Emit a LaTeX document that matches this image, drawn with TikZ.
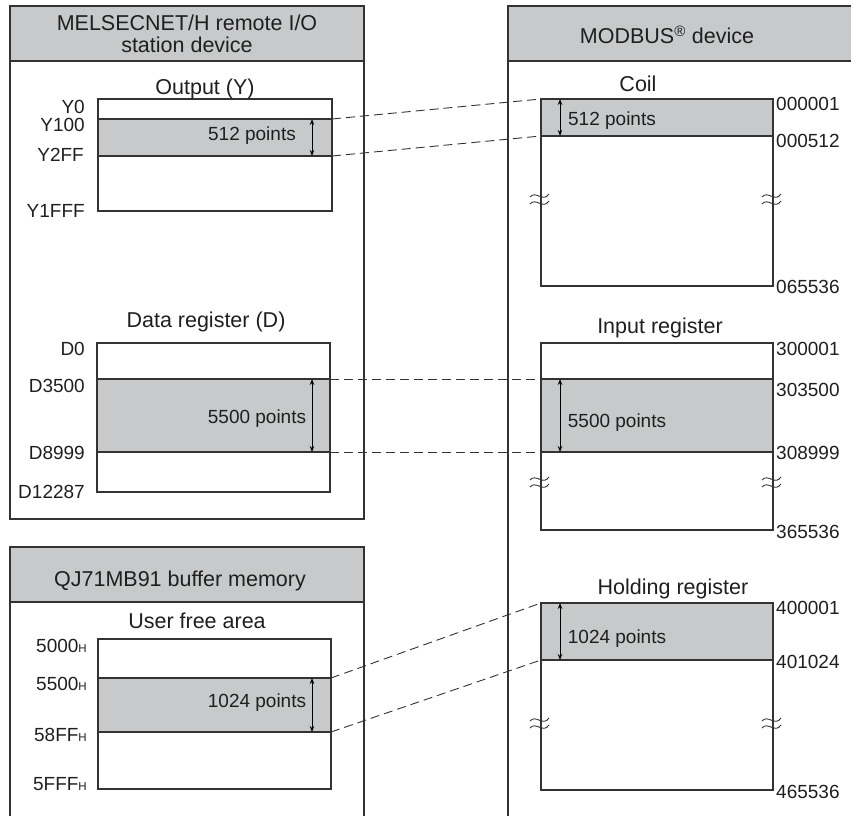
\documentclass[tikz,border=0pt]{standalone}
\usepackage{fontspec}
\setmainfont{Liberation Sans}
\usepackage{xcolor}
\usetikzlibrary{arrows.meta, positioning, calc}
\definecolor{areagray}{HTML}{C8C9CA}
\definecolor{linegray}{HTML}{333333}
\newcommand{\hexh}{{\fontsize{11.5}{11.5}\selectfont H}}
\tikzset{
	panel/.style={draw=linegray, line width=1.3pt},
	headbox/.style={panel, fill=areagray},
	membox/.style={draw=linegray, line width=1.2pt},
	band/.style={fill=areagray},
	link/.style={draw=linegray, line width=0.9pt, dash pattern=on 9pt off 5pt},
	span/.style={draw=black, line width=1pt, {Stealth[length=6pt,width=4.5pt]}-{Stealth[length=6pt,width=4.5pt]}},
	headtxt/.style={inner sep=0, text=black!88, font=\fontsize{21.5}{22}\selectfont, align=center},
	title/.style={inner sep=0, anchor=base, text=black!88, font=\fontsize{21.5}{22}\selectfont},
	lbl/.style={inner sep=0, text=black!88, font=\fontsize{19}{20}\selectfont},
	pts/.style={inner sep=0, anchor=base, text=black!88, font=\fontsize{19}{20}\selectfont},
	brkmark/.pic={
		\draw[draw=linegray, line width=0.9pt] (-10,-2) .. controls (-4,-9) and (3,4) .. (9,-5);
		\draw[draw=linegray, line width=0.9pt] (-10,5) .. controls (-4,-2) and (3,11) .. (9,2);
	}
}
\begin{document}
\begin{tikzpicture}[x=1pt, y=-1pt]
	\useasboundingbox (0,0) rectangle (851,816);
	% panels
	\draw[panel] (10,6) rectangle (364,519);
	\draw[headbox] (10,6) rectangle (364,61);
	\draw[panel] (10,830) -- (10,547) -- (364,547) -- (364,830);
	\draw[headbox] (10,547) rectangle (364,602);
	\draw[panel] (508,830) -- (508,6) -- (870,6);
	\draw[headbox] (508,6) rectangle (870,61);
	\node[headtxt] (hmel) at (187,34) {MELSECNET/H remote I/O\\station device};
	\node[headtxt, anchor=base] (hmod) at (667,44) {MODBUS\textsuperscript{\textregistered} device};
	\node[headtxt, anchor=base] (hqj) at (180,586) {QJ71MB91 buffer memory};

	% Output (Y)
	\fill[band] (98,119) rectangle (332,156);
	\draw[membox] (98,99) rectangle (332,211);
	\coordinate (y100) at (332,119);
	\coordinate (y2ff) at (332,156);
	\draw[membox] (98,119) -- (y100);
	\draw[membox] (98,156) -- (y2ff);
	\node[title] (touty) at (205,94) {Output (Y)};
	\node[lbl, anchor=east] (ly0) at (85,107) {Y0};
	\node[lbl, anchor=east] (ly100) at (85,125) {Y100};
	\node[lbl, anchor=east] (ly2ff) at (84,155) {Y2FF};
	\node[lbl, anchor=east] (ly1fff) at (85,211) {Y1FFF};
	\draw[span] (312,119) -- (312,156);
	\node[pts] (py) at (252,140) {512 points};

	% Data register (D)
	\fill[band] (97,379) rectangle (330,452);
	\draw[membox] (97,343) rectangle (330,492);
	\coordinate (d3500) at (330,379);
	\coordinate (d8999) at (330,452);
	\draw[membox] (97,379) -- (d3500);
	\draw[membox] (97,452) -- (d8999);
	\node[title] (tdreg) at (206,327) {Data register (D)};
	\node[lbl, anchor=east] (ld0) at (85,349) {D0};
	\node[lbl, anchor=east] (ld3500) at (85,386) {D3500};
	\node[lbl, anchor=east] (ld8999) at (85,453) {D8999};
	\node[lbl, anchor=east] (ld12287) at (85,492) {D12287};
	\draw[span] (312,379) -- (312,452);
	\node[pts] (pd) at (257,423) {5500 points};

	% User free area
	\fill[band] (98,678) rectangle (331,732);
	\draw[membox] (98,639) rectangle (331,789);
	\coordinate (u5500) at (331,678);
	\coordinate (u58ff) at (331,732);
	\draw[membox] (98,678) -- (u5500);
	\draw[membox] (98,732) -- (u58ff);
	\node[title] (tuser) at (197,628) {User free area};
	\node[lbl, anchor=east] (lu5000) at (87,646) {5000\hexh};
	\node[lbl, anchor=east] (lu5500) at (87,684) {5500\hexh};
	\node[lbl, anchor=east] (lu58ff) at (87,735) {58FF\hexh};
	\node[lbl, anchor=east] (lu5fff) at (87,784) {5FFF\hexh};
	\draw[span] (312,678) -- (312,732);
	\node[pts] (pu) at (257,707) {1024 points};

	% Coil
	\fill[band] (541,99) rectangle (773,136);
	\draw[membox] (541,99) rectangle (773,286);
	\coordinate (c1) at (541,99);
	\coordinate (c512) at (541,136);
	\draw[membox] (c512) -- (773,136);
	\node[title] (tcoil) at (638,91) {Coil};
	\node[lbl, anchor=west] (lc1) at (776,104) {000001};
	\node[lbl, anchor=west] (lc512) at (776,141) {000512};
	\node[lbl, anchor=west] (lc65536) at (776,287) {065536};
	\pic (bc1) at (540,199) {brkmark};
	\pic (bc2) at (772,199) {brkmark};
	\draw[span] (560,99) -- (560,136);
	\node[pts] (pc) at (612,125) {512 points};

	% Input register
	\fill[band] (541,379) rectangle (773,452);
	\draw[membox] (541,343) rectangle (773,530);
	\coordinate (i3500) at (541,379);
	\coordinate (i8999) at (541,452);
	\draw[membox] (i3500) -- (773,379);
	\draw[membox] (i8999) -- (773,452);
	\node[title] (tinp) at (660,333) {Input register};
	\node[lbl, anchor=west] (li1) at (776,349) {300001};
	\node[lbl, anchor=west] (li3500) at (776,390) {303500};
	\node[lbl, anchor=west] (li8999) at (776,453) {308999};
	\node[lbl, anchor=west] (li65536) at (776,532) {365536};
	\pic (bi1) at (540,482) {brkmark};
	\pic (bi2) at (772,482) {brkmark};
	\draw[span] (560,379) -- (560,452);
	\node[pts] (pi) at (617,427) {5500 points};

	% Holding register
	\fill[band] (541,603) rectangle (773,660);
	\draw[membox] (541,603) rectangle (773,790);
	\coordinate (h1) at (541,603);
	\coordinate (h1024) at (541,660);
	\draw[membox] (h1024) -- (773,660);
	\node[title] (thold) at (673,594) {Holding register};
	\node[lbl, anchor=west] (lh1) at (776,608) {400001};
	\node[lbl, anchor=west] (lh1024) at (776,662) {401024};
	\node[lbl, anchor=west] (lh65536) at (776,792) {465536};
	\pic (bh1) at (540,723) {brkmark};
	\pic (bh2) at (772,723) {brkmark};
	\draw[span] (560,603) -- (560,660);
	\node[pts] (ph) at (617,643) {1024 points};

	% assignments
	\draw[link] (y100) -- (c1);
	\draw[link] (y2ff) -- (c512);
	\draw[link] (d3500) -- (i3500);
	\draw[link] (d8999) -- (i8999);
	\draw[link] (u5500) -- (h1);
	\draw[link] (u58ff) -- (h1024);
\end{tikzpicture}
\end{document}
